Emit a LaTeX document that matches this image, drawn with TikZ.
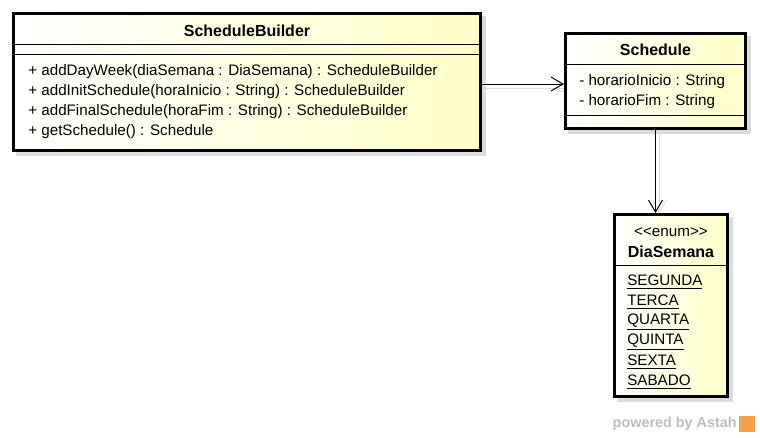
\documentclass[tikz,border=0pt]{standalone}
\usepackage{fontspec}
\setmainfont[Ligatures=TeXOff]{Liberation Sans}
\usetikzlibrary{arrows.meta,calc,backgrounds}
\definecolor{umlink}{HTML}{000000}
\definecolor{umlcream}{HTML}{FFFFC8}
\definecolor{umlshade}{HTML}{DCDCDC}
\definecolor{astahgray}{HTML}{BDBDBD}
\definecolor{astahorange}{HTML}{F2A24A}
\tikzset{
  cls/.style={draw=umlink, line width=2.25pt, left color=white, right color=umlcream, inner sep=0pt},
  txt/.style={anchor=west, inner sep=0pt, font=\fontsize{11.4}{13}\selectfont},
  ttl/.style={inner sep=0pt, font=\fontsize{12}{14}\selectfont\bfseries},
  sep/.style={line width=0.75pt, color=umlink},
  dep/.style={-{Straight Barb[length=9pt, width=10.5pt]}, line width=0.75pt, color=umlink},
  depshade/.style={dep, color=umlshade},
}

\begin{document}
\begin{tikzpicture}[x=0.75pt, y=-0.75pt]
  \useasboundingbox (0,0) rectangle (760,437);
  % class boxes
  \node[cls, minimum width=350.25pt, minimum height=102.75pt] (builder) at (247,82) {};
  \node[cls, minimum width=135pt, minimum height=71.25pt] (schedule) at (655.5,81) {};
  \node[cls, minimum width=84.75pt, minimum height=136.5pt] (dia) at (671,305.5) {};
  \begin{scope}[on background layer]
    \foreach \b in {builder,schedule,dia}
      \fill[umlshade] ($(\b.south west)+(4,4)$) rectangle ($(\b.north east)+(4,4)$);
  \end{scope}

  % ScheduleBuilder
  \node[ttl] (builderName) at (247,31) {ScheduleBuilder};
  \draw[sep] (13.5,44) -- (480.5,44);
  \draw[sep] (13.5,54) -- (480.5,54);
  \node[txt] (op1) at (28,72) {+ addDayWeek(diaSemana : DiaSemana) : ScheduleBuilder};
  \node[txt] (op2) at (28,92) {+ addInitSchedule(horaInicio : String) : ScheduleBuilder};
  \node[txt] (op3) at (28,112) {+ addFinalSchedule(horaFim : String) : ScheduleBuilder};
  \node[txt] (op4) at (28,132) {+ getSchedule() : Schedule};

  % Schedule
  \node[ttl] (scheduleName) at (655.5,50) {Schedule};
  \draw[sep] (565.5,64) -- (745.5,64);
  \node[txt] (attr1) at (579,82) {- horarioInicio : String};
  \node[txt] (attr2) at (579,102) {- horarioFim : String};
  \draw[sep] (565.5,115.5) -- (745.5,115.5);

  % DiaSemana
  \node[txt, anchor=center] (stereo) at (671,232) {<<enum>>};
  \node[ttl] (diaName) at (671,252) {DiaSemana};
  \draw[sep] (614.5,265) -- (727.5,265);
  \foreach \lit [count=\i] in {SEGUNDA,TERCA,QUARTA,QUINTA,SEXTA,SABADO}
    \node[txt] (lit\i) at (627,{262+20*\i}) {\underline{\lit}};

  % dependencies
  \begin{scope}[on background layer]
    \draw[depshade] ($(builder.east)+(4,6)$) -- ($(schedule.west)+(4,7)$);
    \draw[depshade] ($(schedule.south)+(4,4)$) -- ($(schedule.south |- dia.north)+(4,0)$);
  \end{scope}
  \draw[dep] ($(builder.east)+(0,2)$) -- ($(schedule.west)+(0,3)$);
  \draw[dep] (schedule.south) -- (schedule.south |- dia.north);

  % watermark
  \node[anchor=east, inner sep=0pt, text=astahgray, font=\fontsize{10.8}{12}\selectfont\bfseries] (powered) at (737,424) {powered by Astah};
  \node[anchor=west, fill=astahorange, minimum size=12pt, inner sep=0pt] (logo) at (739,424) {};
\end{tikzpicture}
\end{document}
